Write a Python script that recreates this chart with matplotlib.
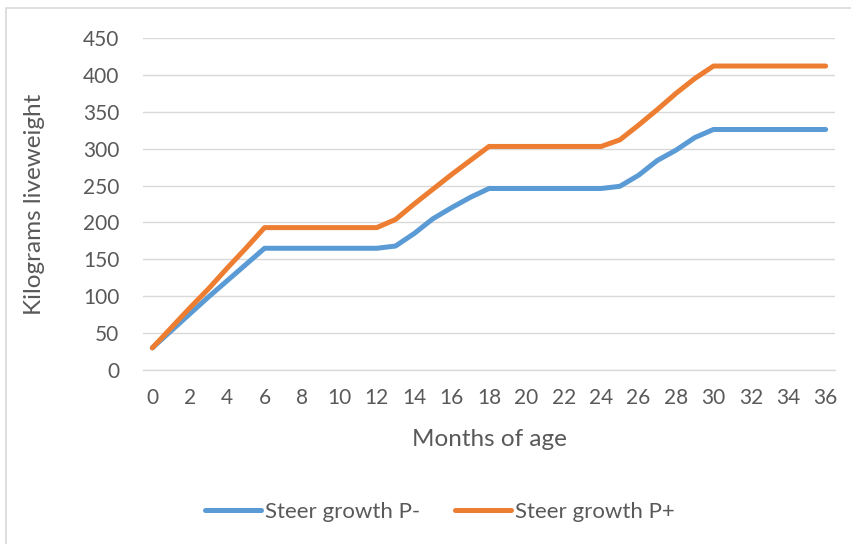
import matplotlib
matplotlib.use("Agg")
import matplotlib.pyplot as plt
from matplotlib.patches import Rectangle
import numpy as np

# monthly liveweight (kg) for steers with and without phosphorus
months = list(range(0, 37))
steer_p_minus = [30, 53, 76, 99, 121, 143, 165, 165, 165, 165, 165, 165, 165,
                 168, 185, 205, 220, 234, 246, 246, 246, 246, 246, 246, 246,
                 249, 264, 284, 298, 315, 326, 326, 326, 326, 326, 326, 326]
steer_p_plus = [30, 57, 84, 110, 138, 165, 193, 193, 193, 193, 193, 193, 193,
                204, 225, 245, 265, 284, 303, 303, 303, 303, 303, 303, 303,
                312, 332, 353, 375, 395, 412, 412, 412, 412, 412, 412, 412]
series_names = ["Steer growth P-", "Steer growth P+"]
y_ticks = [0, 50, 100, 150, 200, 250, 300, 350, 400, 450]
x_ticks = list(range(0, 37, 2))

TEXT = "#595959"
GRID = "#D9D9D9"
plt.rcParams['font.family'] = ['Lato', 'DejaVu Sans']

fig = plt.figure(figsize=(8.51, 5.44), dpi=100)
ax = fig.add_axes([143/851, 1 - 370/544, 692/851, 332/544])

# chart area border (only left and top edges are inside the image)
fig.patches.append(Rectangle((6/851, -0.1), 1.2, 1 - 8/544 + 0.1,
                             transform=fig.transFigure, fill=False,
                             edgecolor=GRID, linewidth=1.2))

colors = ["#5B9BD5", "#ED7D31"]
for vals, name, c in zip([steer_p_minus, steer_p_plus], series_names, colors):
    ax.plot(months, vals, color=c, linewidth=3.6, label=name,
            solid_capstyle='round', solid_joinstyle='round')

ax.set_xlim(-0.5, 36.5)
ax.set_ylim(0, 450)
ax.set_yticks(y_ticks)
ax.set_xticks(x_ticks)
ax.grid(axis='y', color=GRID, linewidth=1.0)
ax.set_axisbelow(True)
for s in ['top', 'right', 'left']:
    ax.spines[s].set_visible(False)
ax.spines['bottom'].set_color(GRID)
ax.spines['bottom'].set_linewidth(1.0)
ax.tick_params(axis='both', length=0, labelsize=15, labelcolor=TEXT)
ax.tick_params(axis='y', pad=17)
ax.tick_params(axis='x', pad=13)

ax.set_xlabel("Months of age", fontsize=17.5, color=TEXT)
ax.set_ylabel("Kilograms liveweight", fontsize=17.5, color=TEXT)
ax.xaxis.set_label_coords(0.5, (370 - 440) / 332, transform=ax.transAxes)
ax.xaxis.label.set_va('center')
ax.yaxis.set_label_coords((35 - 143) / 692, 0.5, transform=ax.transAxes)
ax.yaxis.label.set_va('center')

fig.legend(loc='center', bbox_to_anchor=(440/851, 1 - 512/544), ncol=2,
           frameon=False, fontsize=16, labelcolor=TEXT, handlelength=2.5,
           handletextpad=0.17, columnspacing=1.6)

fig.savefig("out.png", dpi=100)
